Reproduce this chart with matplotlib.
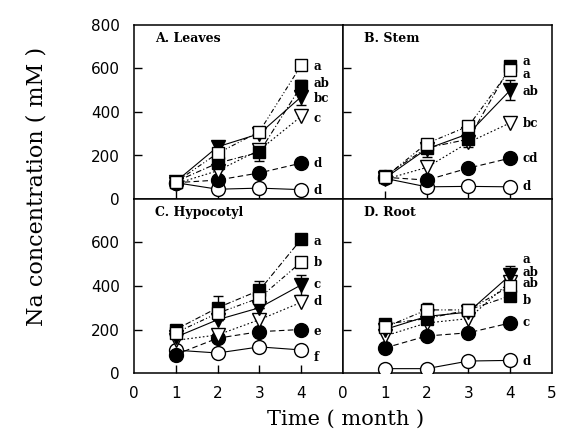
import matplotlib
matplotlib.use("Agg")
import matplotlib.pyplot as plt
import numpy as np

months = [1, 2, 3, 4]
panel_titles = ["A. Leaves", "B. Stem", "C. Hypocotyl", "D. Root"]
series_names = ["open_circle", "filled_circle", "open_triangle", "filled_triangle", "filled_square", "open_square"]

# Na concentration (mM) per panel, per series
leaves = {
    "open_circle":     [75, 45, 50, 43],
    "filled_circle":   [75, 87, 120, 165],
    "open_triangle":   [70, 130, 225, 380],
    "filled_triangle": [80, 240, 300, 470],
    "filled_square":   [80, 165, 215, 520],
    "open_square":     [78, 210, 310, 615],
}
stem = {
    "open_circle":     [95, 56, 58, 56],
    "filled_circle":   [100, 87, 142, 188],
    "open_triangle":   [90, 145, 260, 350],
    "filled_triangle": [95, 230, 300, 500],
    "filled_square":   [105, 235, 275, 610],
    "open_square":     [100, 255, 335, 595],
}
hypocotyl = {
    "open_circle":     [105, 92, 120, 106],
    "filled_circle":   [85, 160, 190, 200],
    "open_triangle":   [150, 175, 245, 325],
    "filled_triangle": [165, 245, 300, 405],
    "filled_square":   [200, 300, 380, 615],
    "open_square":     [185, 275, 345, 510],
}
root = {
    "open_circle":     [20, 20, 55, 58],
    "filled_circle":   [115, 170, 185, 230],
    "open_triangle":   [170, 230, 250, 420],
    "filled_triangle": [200, 260, 280, 450],
    "filled_square":   [225, 250, 290, 355],
    "open_square":     [210, 290, 290, 400],
}
# standard errors (only visible ones)
leaves_err = {"filled_triangle": [0, 25, 0, 40], "filled_square": [0, 30, 40, 25]}
stem_err = {"filled_triangle": [0, 0, 0, 45], "filled_square": [0, 40, 35, 25], "open_square": [0, 20, 0, 0]}
hypocotyl_err = {"filled_triangle": [0, 0, 0, 45], "filled_square": [0, 55, 45, 20]}
root_err = {"filled_triangle": [0, 0, 0, 40], "open_square": [0, 30, 0, 0], "filled_square": [0, 0, 0, 25]}

# significance letters: (text, y)
leaves_letters = [("a", 609), ("ab", 533), ("bc", 464), ("c", 372), ("d", 165), ("d", 41)]
stem_letters = [("a", 630), ("a", 572), ("ab", 492), ("bc", 349), ("cd", 188), ("d", 56)]
hypocotyl_letters = [("a", 604), ("b", 506), ("c", 409), ("d", 327), ("e", 189), ("f", 70)]
root_letters = [("a", 522), ("ab", 464), ("ab", 410), ("b", 335), ("c", 230), ("d", 52)]

styles = {
    "open_circle":     dict(marker="o", mfc="white", ls="-", ms=10),
    "filled_circle":   dict(marker="o", mfc="black", ls=(0, (5, 3)), ms=10),
    "open_triangle":   dict(marker="v", mfc="white", ls=(0, (1.5, 2)), ms=10),
    "filled_triangle": dict(marker="v", mfc="black", ls="-", ms=10),
    "filled_square":   dict(marker="s", mfc="black", ls=(0, (5, 2, 1, 2)), ms=8.5),
    "open_square":     dict(marker="s", mfc="white", ls=(0, (4, 2, 1, 2, 1, 2)), ms=8.5),
}

fig = plt.figure(figsize=(5.62, 4.44), dpi=100)
W, H = 562, 444
x0, xm, x1 = 134, 343, 552
y0, ym, y1 = 25, 199, 373
boxes = [
    (x0, y0, xm, ym), (xm, y0, x1, ym),
    (x0, ym, xm, y1), (xm, ym, x1, y1),
]
datasets = [leaves, stem, hypocotyl, root]
errs = [leaves_err, stem_err, hypocotyl_err, root_err]
letters = [leaves_letters, stem_letters, hypocotyl_letters, root_letters]

for i, (bx0, by0, bx1, by1) in enumerate(boxes):
    ax = fig.add_axes([bx0 / W, 1 - by1 / H, (bx1 - bx0) / W, (by1 - by0) / H])
    ax.set_xlim(0, 5)
    ax.set_ylim(0, 800)
    data = datasets[i]
    err = errs[i]
    for k, name in enumerate(series_names):
        st = styles[name]
        yv = data[name]
        ax.plot(months, yv, color="black", lw=0.8, ls=st["ls"], zorder=2)
        if name in err:
            ax.errorbar(months, yv, yerr=err[name], fmt="none", ecolor="black",
                        elinewidth=1.0, capsize=3.5, capthick=1.0, zorder=3)
        ax.plot(months, yv, ls="none", marker=st["marker"], ms=st["ms"],
                mfc=st["mfc"], mec="black", mew=1.0, zorder=4 + k * 0.1)
    for txt, ly in letters[i]:
        ax.text(4.3, ly, txt, ha="left", va="center", fontsize=8.5,
                fontweight="bold", family="DejaVu Serif")
    ax.text(0.1, 0.92, panel_titles[i], transform=ax.transAxes, ha="left", va="center",
            fontsize=9, fontweight="bold", family="DejaVu Serif")
    for sp in ax.spines.values():
        sp.set_linewidth(1.1)
    ax.tick_params(direction="in", length=6, width=1.0, top=False, right=False)
    ax.set_xticks([1, 2, 3, 4])
    ax.set_yticks([0, 200, 400, 600, 800] if i == 0 else [0, 200, 400, 600])
    if i in (2, 3):
        xt = [0, 1, 2, 3, 4] if i == 2 else [0, 1, 2, 3, 4, 5]
        ax.set_xticks(xt)
        ax.set_xticklabels([str(v) for v in xt], fontsize=11, family="DejaVu Sans")
        ax.tick_params(axis="x", pad=9)
        for t in ax.xaxis.get_major_ticks():
            if t.get_loc() in (0, 5):
                t.tick1line.set_visible(False)
    else:
        ax.set_xticklabels([])
    if i in (0, 2):
        ax.set_yticklabels([str(v) for v in ax.get_yticks().astype(int)], fontsize=11,
                           family="DejaVu Sans")
        ax.tick_params(axis="y", pad=10)
    else:
        ax.set_yticklabels([])
    for t in ax.yaxis.get_major_ticks():
        if t.get_loc() in (0, 800):
            t.tick1line.set_visible(False)

fig.text(37 / W, 1 - 186 / H, "Na concentration ( mM )", rotation=90, ha="center", va="center",
         fontsize=16, family="DejaVu Serif")
fig.text(346 / W, 1 - 419 / H, "Time ( month )", ha="center", va="center",
         fontsize=15, family="DejaVu Serif")

fig.savefig("out.png", dpi=100)
